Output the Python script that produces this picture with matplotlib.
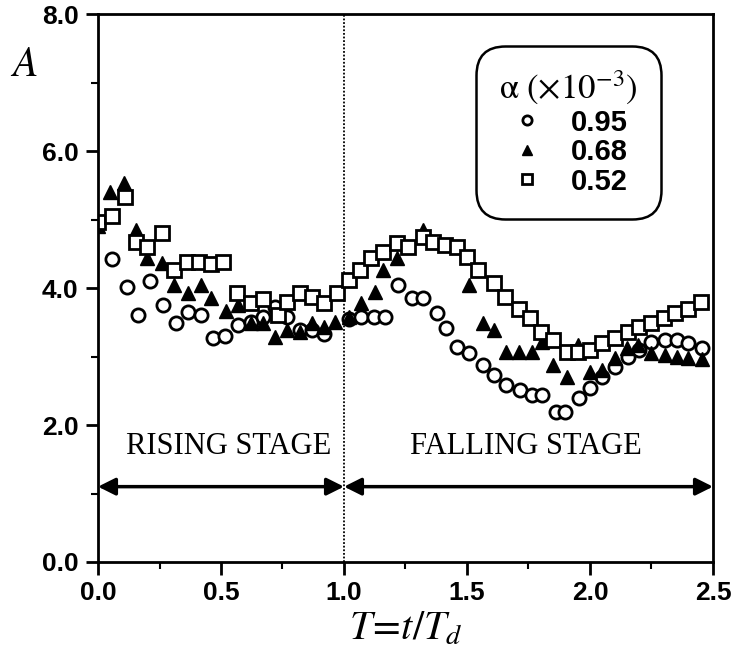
import numpy as np
import matplotlib.pyplot as plt

# alpha = 0.95e-3 (open circles)
x_095 = [0.057, 0.118, 0.163, 0.21, 0.265, 0.317, 0.366, 0.42, 0.467, 0.516,
         0.57, 0.62, 0.67, 0.72, 0.77, 0.82, 0.87, 0.92, 1.02, 1.07, 1.12,
         1.165, 1.22, 1.275, 1.32, 1.38, 1.415, 1.46, 1.51, 1.565, 1.61, 1.66,
         1.715, 1.765, 1.805, 1.86, 1.90, 1.955, 2.0, 2.05, 2.10, 2.155, 2.20,
         2.25, 2.305, 2.355, 2.40, 2.455]
a_095 = [4.42, 4.01, 3.6, 4.1, 3.75, 3.49, 3.65, 3.6, 3.27, 3.3,
         3.46, 3.5, 3.58, 3.72, 3.58, 3.39, 3.39, 3.33, 3.55, 3.58, 3.58,
         3.58, 4.04, 3.85, 3.85, 3.63, 3.42, 3.14, 3.05, 2.88, 2.73, 2.58,
         2.51, 2.44, 2.44, 2.19, 2.19, 2.39, 2.54, 2.7, 2.85, 2.99, 3.09,
         3.21, 3.24, 3.24, 3.2, 3.12]

# alpha = 0.68e-3 (filled triangles)
x_068 = [0.0, 0.05, 0.105, 0.155, 0.20, 0.26, 0.31, 0.365, 0.42, 0.46, 0.52,
         0.57, 0.62, 0.67, 0.72, 0.77, 0.82, 0.87, 0.92, 0.965, 1.02, 1.07,
         1.125, 1.16, 1.215, 1.32, 1.51, 1.565, 1.61, 1.66, 1.71, 1.765,
         1.805, 1.85, 1.905, 1.95, 2.0, 2.05, 2.10, 2.15, 2.195, 2.25, 2.305,
         2.355, 2.40, 2.455]
a_068 = [4.9, 5.4, 5.53, 4.85, 4.44, 4.36, 4.04, 3.93, 4.04, 3.85, 3.66,
         3.75, 3.49, 3.49, 3.28, 3.39, 3.36, 3.49, 3.43, 3.5, 3.58, 3.78,
         3.94, 4.26, 4.44, 4.85, 4.04, 3.49, 3.39, 3.07, 3.07, 3.07,
         3.21, 2.88, 2.7, 3.17, 2.77, 2.8, 2.98, 3.12, 3.17, 3.05, 3.02,
         2.99, 2.98, 2.96]

# alpha = 0.52e-3 (open squares)
x_052 = [0.0, 0.055, 0.11, 0.155, 0.20, 0.26, 0.31, 0.36, 0.41, 0.46, 0.51,
         0.565, 0.62, 0.67, 0.73, 0.77, 0.82, 0.87, 0.92, 0.97, 1.02, 1.065,
         1.11, 1.16, 1.215, 1.26, 1.32, 1.36, 1.41, 1.46, 1.50, 1.545, 1.61,
         1.655, 1.71, 1.755, 1.80, 1.85, 1.905, 1.95, 2.0, 2.05, 2.10, 2.155,
         2.20, 2.25, 2.30, 2.345, 2.40, 2.45]
a_052 = [4.96, 5.05, 5.33, 4.67, 4.6, 4.8, 4.26, 4.38, 4.38, 4.35, 4.38,
         3.93, 3.78, 3.84, 3.6, 3.8, 3.93, 3.87, 3.78, 3.93, 4.12, 4.26,
         4.44, 4.53, 4.66, 4.6, 4.74, 4.67, 4.63, 4.6, 4.45, 4.26, 4.07,
         3.87, 3.7, 3.56, 3.36, 3.24, 3.07, 3.07, 3.09, 3.2, 3.27, 3.36,
         3.43, 3.49, 3.56, 3.63, 3.7, 3.8]

labels = ['0.95', '0.68', '0.52']

plt.rcParams['mathtext.fontset'] = 'stix'
tickfont = {'family': 'Liberation Sans', 'weight': 'bold', 'size': 19}

fig = plt.figure(figsize=(7.38, 6.58), dpi=100)
ax = fig.add_axes([0.1328, 0.1459, 0.8333, 0.8328])

ax.plot(x_095, a_095, 'o', ms=9.5, mfc='white', mec='black', mew=2, label=labels[0])
ax.plot(x_068, a_068, '^', ms=10.5, mfc='black', mec='black', mew=1, label=labels[1])
ax.plot(x_052, a_052, 's', ms=10.5, mfc='white', mec='black', mew=2, label=labels[2])

ax.axvline(1.0, color='black', lw=1.3, ls=(0, (1, 1)), zorder=0)

ax.annotate('', xy=(0.0, 1.1), xytext=(1.0, 1.1),
            arrowprops=dict(arrowstyle='<|-|>', lw=2.5, color='black',
                            mutation_scale=26, shrinkA=0, shrinkB=0))
ax.annotate('', xy=(1.0, 1.1), xytext=(2.5, 1.1),
            arrowprops=dict(arrowstyle='<|-|>', lw=2.5, color='black',
                            mutation_scale=26, shrinkA=0, shrinkB=0))
ax.text(0.53, 1.68, 'RISING STAGE', ha='center', va='center',
        family='Liberation Serif', fontsize=22)
ax.text(1.74, 1.68, 'FALLING STAGE', ha='center', va='center',
        family='Liberation Serif', fontsize=22)

ax.set_xlim(0, 2.5)
ax.set_ylim(0, 8.0)
ax.set_xticks(np.arange(0, 2.51, 0.5))
ax.set_xticks(np.arange(0.25, 2.5, 0.5), minor=True)
ax.set_yticks(np.arange(0, 8.1, 2.0))
ax.set_yticks(np.arange(1.0, 8.0, 2.0), minor=True)
ax.set_xticklabels(['%.1f' % v for v in np.arange(0, 2.51, 0.5)], fontdict=tickfont)
ax.set_yticklabels(['%.1f' % v for v in np.arange(0, 8.1, 2.0)], fontdict=tickfont)
ax.tick_params(which='major', direction='out', length=9, width=2, pad=5)
ax.tick_params(which='minor', direction='out', length=5, width=1.5)
for s in ax.spines.values():
    s.set_linewidth(2)
ax.tick_params(top=False, right=False)

ax.set_xlabel(r'$T\!=\!t/T_d$', fontsize=29, labelpad=2)
ax.set_ylabel(r'$A$', fontsize=30, rotation=0)
ax.yaxis.set_label_coords(-0.12, 0.87)

leg = ax.legend(loc='upper left', bbox_to_anchor=(0.605, 0.953),
                title=r'$\mathrm{α}\ \left(\times10^{-3}\right)$',
                prop={'family': 'Liberation Sans', 'weight': 'bold', 'size': 21},
                markerscale=0.7, handlelength=1.2, handletextpad=0.9,
                labelspacing=0.05, borderpad=0.5, fancybox=True,
                framealpha=1, edgecolor='black')
leg.get_title().set_fontsize(25)
leg.get_frame().set_linewidth(1.8)
leg.get_frame().set_boxstyle('round', pad=0.3, rounding_size=1.0)

fig.savefig('out.png', dpi=100)
